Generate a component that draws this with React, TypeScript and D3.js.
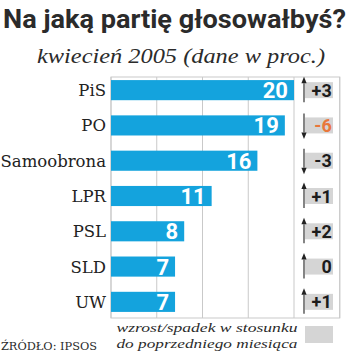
import * as d3 from 'd3';

const parties = ['PiS', 'PO', 'Samoobrona', 'LPR', 'PSL', 'SLD', 'UW'];
const values = [20, 19, 16, 11, 8, 7, 7];
const changes = [3, -6, -3, 1, 2, 0, 1];
const highlighted = ['PO'];
const gridTicks = [0, 5, 10, 15, 20, 25];

const title = 'Na jaką partię głosowałbyś?';
const subtitle = 'kwiecień 2005 (dane w proc.)';
const legendLines = ['wzrost/spadek w stosunku', 'do poprzedniego miesiąca'];
const source = 'ŹRÓDŁO: IPSOS';

const W = 350;
const H = 356;

export default function App() {
  const x = d3.scaleLinear().domain([0, 25]).range([111, 339.75]);
  const y = d3.scaleBand<string>().domain(parties).range([72.5, 319.5]).paddingInner(0.43).paddingOuter(0.215);
  const frameTop = 77;
  const frameBottom = 318;
  const bw = y.bandwidth();

  const fmt = (c: number) => (c > 0 ? `+${c}` : `${c}`);
  const serif = '"DejaVu Serif", "Liberation Serif", serif';
  const sans = 'Roboto, "Noto Sans", sans-serif';

  return (
    <svg width={W} height={H} style={{ position: 'absolute', left: 0, top: 0, background: '#fff' }}>
      <text x={3} y={28} fontFamily={sans} fontWeight={700} fontSize={25} fill="#2b2b2b"
        textLength={343} lengthAdjust="spacingAndGlyphs">{title}</text>
      <text x={181} y={63} textAnchor="middle" fontFamily='"Liberation Serif", serif' fontStyle="italic"
        fontSize={22} fill="#2b2b2b" textLength={288} lengthAdjust="spacingAndGlyphs">{subtitle}</text>

      {/* frame and grid */}
      <rect x={x(0)} y={frameTop} width={x(25) - x(0)} height={frameBottom - frameTop}
        fill="none" stroke="#c9c9c9" strokeWidth={1} />
      {gridTicks.map(t => (
        <line key={t} x1={x(t)} x2={x(t)} y1={frameTop} y2={frameBottom} stroke="#c9c9c9" strokeWidth={1} />
      ))}

      {parties.map((p, i) => {
        const yy = y(p) as number;
        const cy = yy + bw / 2;
        const c = changes[i];
        const up = c >= 0;
        const ax = x(20) + 10;
        return (
          <g key={p}>
            <text x={106} y={cy + 6} textAnchor="end" fontFamily={serif} fontSize={16.5} fill="#222">{p}</text>
            <rect x={x(0)} y={yy} width={x(values[i]) - x(0)} height={bw} fill="#14a3dd" />
            <text x={x(values[i]) - 6} y={cy + 8} textAnchor="end" fontFamily={sans} fontWeight={700}
              fontSize={22} fill="#fff">{values[i]}</text>

            <rect x={ax + 1} y={cy - 8} width={28} height={16} fill="#d5d5d5" />
            <line x1={ax} x2={ax} y1={up ? cy - 7 : cy - 12} y2={up ? cy + 12 : cy + 7} stroke="#333" strokeWidth={1.2} />
            <path d={up
              ? `M${ax - 2.6},${cy - 7} L${ax + 2.6},${cy - 7} L${ax},${cy - 13.5} Z`
              : `M${ax - 2.6},${cy + 7} L${ax + 2.6},${cy + 7} L${ax},${cy + 13.5} Z`}
              fill="#222" />
            <text x={x(25) - 8} y={cy + 6.5} textAnchor="end" fontFamily={sans} fontWeight={700} fontSize={18}
              fill={highlighted.includes(p) ? '#e9773b' : '#1c1c1c'}>{fmt(c)}</text>
          </g>
        );
      })}

      {/* legend */}
      {legendLines.map((l, i) => (
        <text key={l} x={207} y={332 + i * 16} textAnchor="middle" fontFamily='"Liberation Serif", serif'
          fontStyle="italic" fontSize={13.5} fill="#2b2b2b" textLength={181} lengthAdjust="spacingAndGlyphs">{l}</text>
      ))}
      <rect x={305} y={326} width={28} height={17} fill="#d5d5d5" />
      <text x={1} y={350} fontFamily={serif} fontSize={11} fill="#2b2b2b" textLength={96}
        lengthAdjust="spacingAndGlyphs">{source}</text>
    </svg>
  );
}
